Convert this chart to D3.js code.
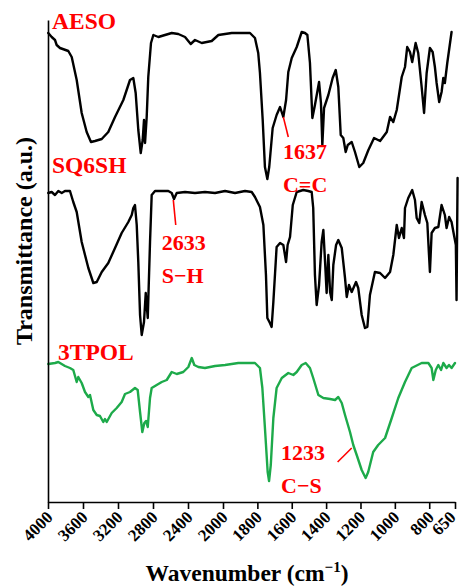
<!DOCTYPE html>
<html>
<head>
<meta charset="utf-8">
<script src="https://cdn.jsdelivr.net/npm/d3@7"></script>
<style>
  body { margin: 0; background: #fff; }
  svg text { font-family: "Liberation Serif", "Times New Roman", serif; font-weight: bold; }
</style>
</head>
<body>
<div id="chart"></div>
<script>
// wavenumber (cm-1) and transmittance (a.u., curves stacked)
const aeso = [
  [3997,469],[3958,465],[3920,462],[3901,457],[3863,454],[3768,451],[3729,445],[3672,422],
  [3615,389],[3558,370],[3509,360],[3463,361],[3386,363],[3311,370],[3234,385],[3139,402],
  [3063,422],[3025,424],[2998,409],[2968,372],[2940,349],[2918,362],[2903,382],[2891,359],
  [2872,385],[2854,425],[2823,459],[2796,467],[2739,465],[2663,467],[2586,469],[2511,468],
  [2434,465],[2369,458],[2320,462],[2243,459],[2129,461],[2053,467],[1949,469],[1872,469],
  [1843,469],[1814,464],[1795,449],[1785,429],[1769,382],[1756,335],[1742,323],[1731,335],
  [1711,374],[1688,387],[1668,395],[1649,385],[1633,402],[1620,430],[1600,444],[1571,455],
  [1542,470],[1523,469],[1509,467],[1494,439],[1480,384],[1465,397],[1441,420],[1430,399],
  [1422,357],[1412,394],[1387,407],[1362,424],[1344,432],[1329,415],[1315,367],[1300,364],
  [1286,350],[1274,357],[1251,360],[1232,350],[1207,335],[1184,339],[1154,352],[1121,364],
  [1086,361],[1047,370],[1028,385],[1009,380],[989,392],[960,425],[941,435],[928,455],
  [912,450],[899,440],[879,459],[864,449],[844,415],[830,389],[815,429],[796,454],
  [780,450],[767,435],[757,419],[742,400],[728,410],[718,424],[709,419],[695,439],[670,470]
];

const sq6sh = [
  [3997,309],[3958,310],[3920,307],[3882,311],[3843,309],[3806,311],[3749,311],[3711,300],
  [3672,290],[3615,260],[3539,234],[3482,219],[3443,220],[3386,230],[3311,239],[3234,254],
  [3158,269],[3082,280],[3043,287],[3025,294],[3006,297],[2986,277],[2968,240],[2948,187],
  [2929,167],[2903,180],[2883,209],[2860,184],[2834,260],[2815,307],[2777,311],[2625,311],
  [2586,309],[2560,303],[2529,309],[2434,310],[2320,309],[2206,310],[2091,309],[1988,311],
  [1930,309],[1872,311],[1833,310],[1814,305],[1785,295],[1765,277],[1750,227],[1742,184],
  [1727,179],[1717,175],[1707,200],[1688,255],[1668,259],[1649,257],[1633,240],[1624,257],
  [1610,265],[1594,297],[1571,310],[1533,312],[1504,311],[1484,310],[1475,294],[1465,227],
  [1455,197],[1441,217],[1426,260],[1416,272],[1406,240],[1397,209],[1387,247],[1377,210],
  [1367,202],[1358,237],[1342,257],[1329,262],[1309,254],[1290,224],[1280,205],[1267,217],
  [1251,210],[1226,220],[1213,214],[1193,187],[1174,174],[1160,175],[1145,207],[1116,230],
  [1086,229],[1057,224],[1028,230],[1009,247],[989,277],[976,264],[960,274],[947,264],
  [941,294],[922,304],[899,312],[883,302],[873,284],[858,279],[844,300],[825,287],
  [811,279],[796,230],[786,269],[767,274],[747,275],[728,297],[709,287],[699,274],
  [684,285],[670,280],[656,267],[645,257],[641,202],[635,324]
];

const tpol = [
  [3997,138],[3920,139],[3882,140],[3806,136],[3749,134],[3711,132],[3672,120],[3654,125],
  [3615,119],[3577,110],[3539,105],[3520,107],[3482,92],[3443,87],[3406,86],[3368,80],
  [3349,83],[3329,80],[3272,89],[3215,94],[3158,100],[3120,108],[3063,110],[3006,114],
  [2975,112],[2948,90],[2922,70],[2899,79],[2880,81],[2860,75],[2834,104],[2815,114],
  [2758,117],[2700,120],[2643,122],[2586,130],[2529,128],[2454,130],[2396,135],[2357,144],
  [2328,137],[2282,135],[2206,134],[2091,136],[1988,137],[1911,139],[1814,139],[1785,134],
  [1771,114],[1756,74],[1740,30],[1732,21],[1722,37],[1707,84],[1688,114],[1658,124],
  [1620,129],[1591,127],[1571,130],[1542,137],[1519,139],[1494,134],[1475,124],[1445,107],
  [1416,104],[1377,103],[1348,102],[1329,105],[1309,99],[1290,87],[1261,70],[1242,57],
  [1222,47],[1193,32],[1170,24],[1155,30],[1126,50],[1097,57],[1057,64],[1018,84],
  [980,104],[941,120],[902,134],[844,139],[805,139],[786,134],[776,122],[762,132],
  [747,137],[731,132],[718,139],[699,134],[685,137],[670,134],[650,139]
];

const seriesNames = ["AESO", "SQ6SH", "3TPOL"];
const seriesColors = ["#000000", "#000000", "#1daa4a"];
const xTicks = [4000, 3600, 3200, 2800, 2400, 2000, 1800, 1600, 1400, 1200, 1000, 800, 650];

// peak marks: line from (wn,v) to (wn,v), label position, label lines
const peaks = [
  {from: [1649, 385], to: [1620, 365], at: [1651, 343], lines: ["1637", "C=C"]},
  {from: [2568, 302], to: [2540, 277], at: [2700, 252], lines: ["2633", "S\u2212H"]},
  {from: [1251, 54], to: [1333, 40], at: [1662, 42], lines: ["1233", "C\u2212S"]}
];

const width = 461, height = 586;

const x = d3.scaleLinear().domain([4000, 2000, 650]).range([48, 223, 455]);
const y = d3.scaleLinear().domain([0, 482]).range([502, 20]);

const svg = d3.select('#chart').append('svg').attr('width', width).attr('height', height);

const line = d3.line().x(d => x(d[0])).y(d => y(d[1]));

[aeso, sq6sh, tpol].forEach((s, i) => {
  svg.append('path').datum(s)
    .attr('fill', 'none')
    .attr('stroke', seriesColors[i])
    .attr('stroke-width', 2.4)
    .attr('stroke-linejoin', 'round')
    .attr('stroke-linecap', 'round')
    .attr('d', line);
});

// axes
const xAxis = svg.append('g').attr('transform', `translate(0,${y(0)})`)
  .call(d3.axisBottom(x).tickValues(xTicks).tickSize(7).tickSizeOuter(0).tickFormat(d3.format('d')));
xAxis.select('.domain').attr('stroke-width', 1.6);
xAxis.selectAll('.tick line').attr('stroke-width', 1.6);
xAxis.selectAll('.tick text')
  .attr('font-size', 17)
  .attr('fill', '#000')
  .attr('text-anchor', 'end')
  .attr('x', 0).attr('y', 0)
  .attr('dy', '0.35em')
  .attr('transform', d => d === 650 ? 'translate(-3,12) rotate(-45)' : 'translate(1,12) rotate(-45)');

const yAxis = svg.append('g').attr('transform', `translate(${x(4000)},0)`)
  .call(d3.axisLeft(y).tickValues([]).tickSizeOuter(0));
yAxis.select('.domain').attr('stroke-width', 1.6);

svg.append('text')
  .attr('x', 247).attr('y', 581)
  .attr('text-anchor', 'middle')
  .attr('font-size', 23.5)
  .html('Wavenumber (cm<tspan font-size="15" dy="-9">\u22121</tspan><tspan dy="9">)</tspan>');

svg.append('text')
  .attr('transform', 'translate(32,241) rotate(-90)')
  .attr('text-anchor', 'middle')
  .attr('font-size', 24)
  .text('Transmittance (a.u.)');

// series names
const namePos = [[52, 29], [52, 173], [58, 360]];
seriesNames.forEach((n, i) => {
  svg.append('text')
    .attr('x', namePos[i][0]).attr('y', namePos[i][1])
    .attr('font-size', 23.5)
    .attr('fill', '#ff0000')
    .text(n);
});

// peak annotations
peaks.forEach(p => {
  svg.append('line')
    .attr('x1', x(p.from[0])).attr('y1', y(p.from[1]))
    .attr('x2', x(p.to[0])).attr('y2', y(p.to[1]))
    .attr('stroke', '#ff0000').attr('stroke-width', 1.6);
  p.lines.forEach((t, j) => {
    svg.append('text')
      .attr('x', x(p.at[0])).attr('y', y(p.at[1]) + j * 33)
      .attr('font-size', 22)
      .attr('fill', '#ff0000')
      .text(t);
  });
});
</script>
</body>
</html>
